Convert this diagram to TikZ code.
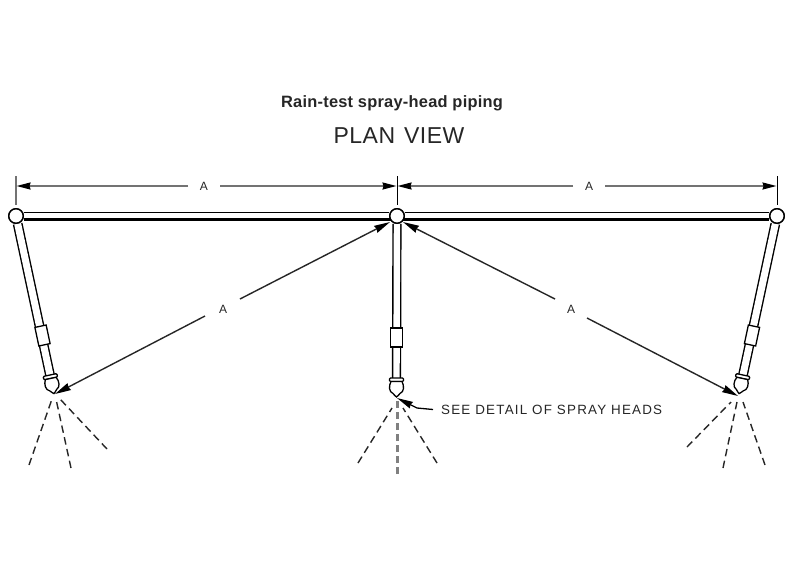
\documentclass[tikz,border=0pt]{standalone}
\usepackage{fontspec}
\setmainfont{Liberation Sans}
\usetikzlibrary{arrows.meta,calc}
\tikzset{
  x=1pt,y=-1pt,
  hub/.style={circle,draw=black,line width=1.4pt,fill=white,minimum size=14.5pt,inner sep=0pt},
  pipeline/.style={double=white,draw=black,line width=1.4pt,double distance=5.6pt},
  dimline/.style={draw=black!55,line width=1.6pt},
  dimtip/.style={-{Stealth[length=14pt,width=7pt,inset=1pt,black]}},
  reach/.style={draw=black!85,line width=1.4pt,-{Stealth[length=16pt,width=7.5pt,inset=1pt,black]}},
  spray/.style={draw=black!85,line width=1.4pt,dash pattern=on 7.5pt off 4.5pt},
  sprayc/.style={draw=black!50,line width=2.6pt,dash pattern=on 7.5pt off 3.5pt},
  lbl/.style={inner sep=0pt,text=black!85},
  coupling/.style={draw=black,line width=1.3pt,fill=white,minimum width=11.5pt,minimum height=19pt,inner sep=0pt},
  pics/fitting/.style={code={
    \draw[line width=1.3pt,fill=white,rounded corners=1pt] (-7,0) -- (7,0) -- (7,3.5) -- (-7,3.5) -- cycle;
    \draw[line width=1.3pt,fill=white] (-5.5,3.5) .. controls (-8,8) and (-7.5,14) .. (-3.5,15.5)
       .. controls (-2,17) and (-1,18.5) .. (0,19)
       .. controls (1,18.5) and (2,17) .. (3.5,15.5)
       .. controls (7.5,14) and (8,8) .. (5.5,3.5) -- cycle;
  }},
}
\begin{document}
\begin{tikzpicture}
\useasboundingbox (0,0) rectangle (793,566);
\fill[white] (0,0) rectangle (793,566);
% titles
\node[lbl,font=\fontsize{16.4}{18}\bfseries\selectfont\addfontfeature{LetterSpace=1.5}] (title) at (392,103) {Rain-test spray-head piping};
\node[lbl,font=\fontsize{23}{26}\selectfont\addfontfeature{LetterSpace=2}] (plan) at (399,136) {PLAN\hspace{9pt}VIEW};
% key points
\node[hub] (hubL) at (16,216) {};
\node[hub] (hubC) at (397,216) {};
\node[hub] (hubR) at (777,216) {};
\coordinate (headL) at (50,375);
\coordinate (headC) at (396.5,378);
\coordinate (headR) at (743,375);
\coordinate (tipL) at (55,394);
\coordinate (tipC) at (397,398);
\coordinate (tipR) at (738,396);
% pipes
\draw[pipeline] (hubL) -- (hubC);
\draw[pipeline] (hubC) -- (hubR);
\draw[line width=2.4pt] (hubL.east |- 0,219.5) -- (hubR.west |- 0,219.5);
\draw[pipeline,double distance=6.4pt] (hubC) -- (headC);
\draw[pipeline,double distance=7pt] (hubL) -- (headL);
\draw[pipeline,double distance=7pt] (hubR) -- (headR);
\node[hub] at (hubL) {};
\node[hub] at (hubC) {};
\node[hub] at (hubR) {};
% couplings
\node[coupling] (cplC) at (396.5,337.5) {};
\node[coupling,rotate=12] (cplL) at (42.5,335.5) {};
\node[coupling,rotate=-12] (cplR) at (752,335.5) {};
% heads
\pic[rotate=12] at (headL) {fitting};
\pic at (headC) {fitting};
\pic[rotate=-12] at (headR) {fitting};
% dimension extension lines
\coordinate (extLt) at (16,176); \coordinate (extCt) at (397,176); \coordinate (extRt) at (777,176);
\draw[dimline] (extLt) -- ($(hubL)+(0,-11)$);
\draw[dimline,black,line width=1pt] (extCt) -- ($(hubC)+(0,-11)$);
\draw[dimline,black,line width=1pt] (extRt) -- ($(hubR)+(0,-11)$);
% dimension labels and lines
\node[lbl,font=\fontsize{12}{14}\selectfont] (dimA1) at (204,186) {A};
\node[lbl,font=\fontsize{12}{14}\selectfont] (dimA2) at (589,186) {A};
\node[lbl,font=\fontsize{12}{14}\selectfont] (reachA1) at (223,309) {A};
\node[lbl,font=\fontsize{12}{14}\selectfont] (reachA2) at (571,309) {A};
\draw[dimline,dimtip] (188,186) -- (16.5,186);
\draw[dimline,dimtip] (220,186) -- (396.5,186);
\draw[dimline,dimtip] (573,186) -- (397.5,186);
\draw[dimline,dimtip] (605,186) -- (776.5,186);
% reach arrows
\draw[reach] (205,316) -- (tipL);
\draw[reach] (240,299) -- (390,222);
\draw[reach] (555,299) -- (403,222);
\draw[reach] (587,318) -- (tipR);
% sprays
\coordinate (sL1) at (29,465); \coordinate (sL2) at (71,468); \coordinate (sL3) at (107,449);
\coordinate (sC1) at (358,463); \coordinate (sC2) at (397.5,474); \coordinate (sC3) at (437,463);
\coordinate (sR1) at (687,447); \coordinate (sR2) at (723,468); \coordinate (sR3) at (765,465);
\draw[spray] (sL1) -- (52,399);
\draw[spray] (sL2) -- (56,399);
\draw[spray] (sL3) -- (60,399);
\draw[spray] (sC1) -- (392,408);
\draw[sprayc] (sC2) -- (397.5,400);
\draw[spray] (sC3) -- (403,408);
\draw[spray] (sR1) -- (731,402);
\draw[spray] (sR2) -- (737,402);
\draw[spray] (sR3) -- (743,402);
% leader
\node[lbl,anchor=west,font=\fontsize{13.4}{15}\selectfont\addfontfeature{LetterSpace=9}] (see) at (441,410) {SEE DETAIL OF SPRAY HEADS};
\draw[line width=1.3pt,-{Stealth[length=16pt,width=7pt,inset=1pt]}] (see.west) ++(-8,-0.5) -- (417,408) -- (tipC);
\end{tikzpicture}
\end{document}
